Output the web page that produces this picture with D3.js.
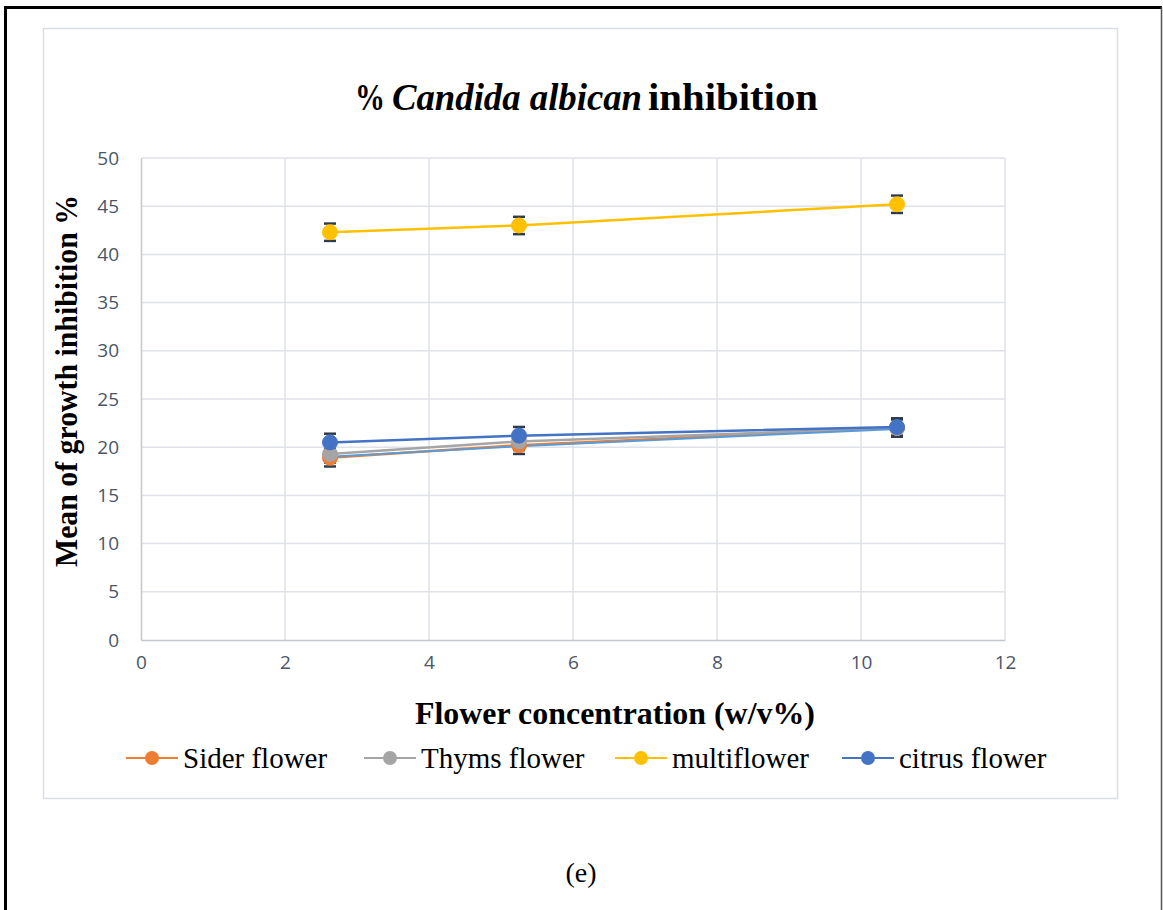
<!DOCTYPE html>
<html>
<head>
<meta charset="utf-8">
<script src="https://cdn.jsdelivr.net/npm/d3@7"></script>
<style>
  body { margin: 0; background: #fff; }
  svg { display: block; }
  .serif, .serif tspan { font-family: "Liberation Serif", "DejaVu Serif", serif; }
</style>
</head>
<body>
<div id="chart"></div>
<script>
// values
const concentrations = [2.625, 5.25, 10.5];
const siderFlower = [18.9, 20.2, 22.0];
const thymsFlower = [19.3, 20.6, 22.0];
const multiflower = [42.3, 43.0, 45.2];
const citrusFlower = [20.5, 21.2, 22.1];
const extraLine = [19.0, 20.1, 21.9];   // light blue line, no legend entry
const errors = [0.9, 0.9, 0.9];
const xTicks = [0, 2, 4, 6, 8, 10, 12];
const yTicks = [0, 5, 10, 15, 20, 25, 30, 35, 40, 45, 50];

const series = [
  { name: 'Sider flower', values: siderFlower, color: '#ed7d31', legend: true, marker: true },
  { name: 'Thyms flower', values: thymsFlower, color: '#a5a5a5', legend: true, marker: true },
  { name: 'multiflower', values: multiflower, color: '#ffc000', legend: true, marker: true },
  { name: 'extra', values: extraLine, color: '#5b9bd5', legend: false, marker: false },
  { name: 'citrus flower', values: citrusFlower, color: '#4472c4', legend: true, marker: true }
];

const width = 1163, height = 910;
const plot = { left: 141, right: 1005, top: 158, bottom: 640 };

const svg = d3.select('#chart').append('svg')
  .attr('width', width)
  .attr('height', height);

// outer frame
svg.append('line').attr('x1', 5.5).attr('x2', 5.5).attr('y1', 6).attr('y2', height)
  .attr('stroke', '#000').attr('stroke-width', 3);
svg.append('line').attr('x1', 4).attr('x2', 1162).attr('y1', 7.5).attr('y2', 7.5)
  .attr('stroke', '#000').attr('stroke-width', 3);
svg.append('line').attr('x1', 1161.5).attr('x2', 1161.5).attr('y1', 7).attr('y2', height)
  .attr('stroke', '#555').attr('stroke-width', 1.5);

// chart area box
svg.append('rect')
  .attr('x', 43.5).attr('y', 28.5).attr('width', 1074).attr('height', 770)
  .attr('fill', '#fff').attr('stroke', '#d9dde5').attr('stroke-width', 1.5);

const x = d3.scaleLinear().domain([0, 12]).range([plot.left, plot.right]);
const y = d3.scaleLinear().domain([0, 50]).range([plot.bottom, plot.top]);

// grid
svg.append('g')
  .selectAll('line')
  .data(yTicks.filter(d => d > 0))
  .enter().append('line')
  .attr('x1', plot.left).attr('x2', plot.right)
  .attr('y1', d => y(d)).attr('y2', d => y(d))
  .attr('stroke', '#dfe2e9').attr('stroke-width', 1.5);

svg.append('g')
  .selectAll('line')
  .data(xTicks.filter(d => d > 0))
  .enter().append('line')
  .attr('x1', d => x(d)).attr('x2', d => x(d))
  .attr('y1', plot.top).attr('y2', plot.bottom)
  .attr('stroke', '#dfe2e9').attr('stroke-width', 1.5);

// axes
const xAxis = svg.append('g')
  .attr('transform', `translate(0,${plot.bottom})`)
  .call(d3.axisBottom(x).tickValues(xTicks).tickSize(0).tickPadding(21));
const yAxis = svg.append('g')
  .attr('transform', `translate(${plot.left},0)`)
  .call(d3.axisLeft(y).tickValues(yTicks).tickSize(0).tickPadding(22));

[xAxis, yAxis].forEach(a => {
  a.select('.domain').attr('stroke', '#c3c8d0').attr('stroke-width', 1.5);
  a.selectAll('text')
    .style('font-family', '"Open Sans", "Liberation Sans", sans-serif')
    .style('font-size', '19px')
    .attr('fill', '#4a5667');
});
xAxis.selectAll('text').attr('dy', '0.4em');

// lines
const line = d3.line()
  .x((d, i) => x(concentrations[i]))
  .y(d => y(d));

series.forEach(s => {
  svg.append('path')
    .datum(s.values)
    .attr('fill', 'none')
    .attr('stroke', s.color)
    .attr('stroke-width', s.marker ? 2.5 : 2)
    .attr('d', line);
});

// error bars then markers
series.filter(s => s.marker).forEach(s => {
  const g = svg.append('g');
  s.values.forEach((v, i) => {
    const cx = x(concentrations[i]);
    const lo = y(v - errors[i]), hi = y(v + errors[i]);
    g.append('line').attr('x1', cx).attr('x2', cx).attr('y1', lo).attr('y2', hi)
      .attr('stroke', '#2f3b4c').attr('stroke-width', 1.5);
    [lo, hi].forEach(yy => {
      g.append('line').attr('x1', cx - 6).attr('x2', cx + 6).attr('y1', yy).attr('y2', yy)
        .attr('stroke', '#2f3b4c').attr('stroke-width', 2.5);
    });
  });
});

series.filter(s => s.marker).forEach(s => {
  svg.append('g')
    .selectAll('circle')
    .data(s.values)
    .enter().append('circle')
    .attr('cx', (d, i) => x(concentrations[i]))
    .attr('cy', d => y(d))
    .attr('r', 7.5)
    .attr('fill', s.color)
    .attr('stroke', s.color)
    .attr('stroke-width', 1);
});

// titles: separate pieces so the serif face holds in each
const titleParts = [
  { text: '%', italic: false, x: 355, w: 30 },
  { text: 'Candida albican', italic: true, x: 392, w: 250 },
  { text: 'inhibition', italic: false, x: 648, w: 170 }
];
svg.append('g')
  .selectAll('text')
  .data(titleParts)
  .enter().append('text')
  .attr('class', 'serif')
  .attr('x', d => d.x).attr('y', 110)
  .style('font-weight', 'bold')
  .style('font-style', d => d.italic ? 'italic' : 'normal')
  .style('font-size', '38px')
  .attr('textLength', d => d.w)
  .attr('lengthAdjust', 'spacingAndGlyphs')
  .attr('fill', '#000')
  .text(d => d.text);

svg.append('text')
  .attr('class', 'serif')
  .attr('x', 615).attr('y', 724)
  .attr('text-anchor', 'middle')
  .style('font-weight', 'bold')
  .style('font-size', '32px')
  .attr('textLength', 400)
  .attr('lengthAdjust', 'spacingAndGlyphs')
  .text('Flower concentration (w/v%)');

svg.append('text')
  .attr('class', 'serif')
  .attr('transform', 'translate(77,381) rotate(-90)')
  .attr('text-anchor', 'middle')
  .style('font-weight', 'bold')
  .style('font-size', '31px')
  .attr('textLength', 372)
  .attr('lengthAdjust', 'spacingAndGlyphs')
  .text('Mean of growth inhibition %');

// legend
const legendX = [126, 364, 615, 842];
const legend = svg.append('g')
  .selectAll('g')
  .data(series.filter(s => s.legend))
  .enter().append('g')
  .attr('transform', (d, i) => `translate(${legendX[i]},758)`);

legend.append('line')
  .attr('x1', 0).attr('x2', 52).attr('y1', 0).attr('y2', 0)
  .attr('stroke', d => d.color).attr('stroke-width', 2);
legend.append('circle')
  .attr('cx', 26).attr('cy', 0).attr('r', 7)
  .attr('fill', d => d.color);
legend.append('text')
  .attr('class', 'serif')
  .attr('x', 57).attr('y', 0).attr('dy', '0.34em')
  .style('font-size', '29px')
  .attr('fill', '#000')
  .text(d => d.name);

// panel label
svg.append('text')
  .attr('class', 'serif')
  .attr('x', 581).attr('y', 872).attr('dy', '0.34em')
  .attr('text-anchor', 'middle')
  .style('font-size', '28px')
  .text('(e)');
</script>
</body>
</html>
